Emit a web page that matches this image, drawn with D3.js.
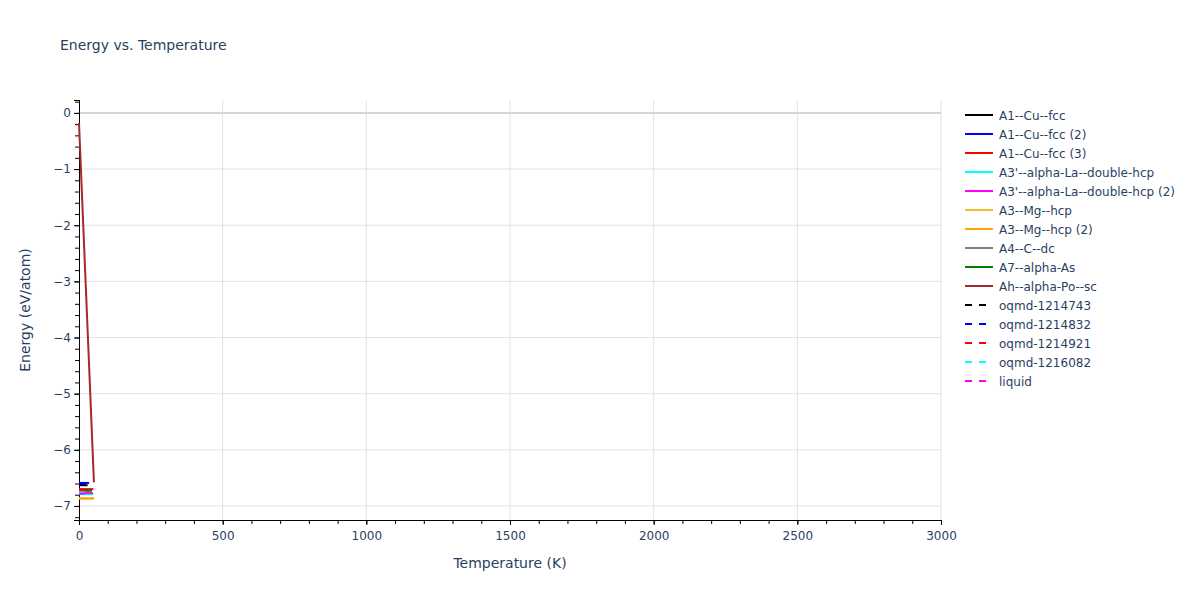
<!DOCTYPE html>
<html>
<head>
<meta charset="utf-8">
<script src="https://cdn.jsdelivr.net/npm/d3@7"></script>
<style>
  body { margin: 0; background: #fff; }
  text { font-family: "DejaVu Sans", "Open Sans", sans-serif; fill: #2a3f5f; }
</style>
</head>
<body>
<svg id="chart" width="1200" height="600"></svg>
<script>
// Nomi delle serie (in ordine di legenda)
var seriesNames = [
  "A1--Cu--fcc", "A1--Cu--fcc (2)", "A1--Cu--fcc (3)",
  "A3'--alpha-La--double-hcp", "A3'--alpha-La--double-hcp (2)",
  "A3--Mg--hcp", "A3--Mg--hcp (2)", "A4--C--dc", "A7--alpha-As",
  "Ah--alpha-Po--sc", "oqmd-1214743", "oqmd-1214832", "oqmd-1214921",
  "oqmd-1216082", "liquid"
];
var seriesColors = [
  "black", "blue", "red", "cyan", "magenta", "#f0c030", "orange", "grey",
  "green", "brown", "black", "blue", "red", "cyan", "magenta"
];
var seriesDashed = [false, false, false, false, false, false, false, false,
  false, false, true, true, true, true, true];

// Temperature (K) ed energia (eV/atom)
var seriesTemps = [
  [0, 30], [0, 35], [0, 50], [0, 50], [0, 48],
  [0, 52], [0, 52], [0, 45], [0, 45], [0, 52],
  [0, 22], [0, 30], [0, 45], [0, 40], [0, 40]
];
var seriesEnergies = [
  [-6.63, -6.63], [-6.59, -6.59], [-6.70, -6.70], [-6.79, -6.79], [-6.77, -6.77],
  [-6.86, -6.86], [-6.87, -6.87], [-6.74, -6.74], [-6.72, -6.72], [-0.18, -6.58],
  [-6.62, -6.62], [-6.60, -6.60], [-6.71, -6.71], [-6.76, -6.76], [-6.78, -6.78]
];

var xTicks = [0, 500, 1000, 1500, 2000, 2500, 3000];
var yTicks = [0, -1, -2, -3, -4, -5, -6, -7];

// Margini
var margin = {top: 100, right: 259, bottom: 80, left: 79};
var width = 1200 - margin.left - margin.right;
var height = 600 - margin.top - margin.bottom;

var svg = d3.select("#chart");
var g = svg.append("g").attr("transform", "translate(" + margin.left + "," + margin.top + ")");

var xScale = d3.scaleLinear().domain([0, 3000]).range([0, width]);
var yScale = d3.scaleLinear().domain([-7.25, 0.23]).range([height, 0]);

// Griglia
g.selectAll(".xgrid").data(xTicks.slice(1)).enter().append("line")
  .attr("x1", function(d) { return xScale(d); })
  .attr("x2", function(d) { return xScale(d); })
  .attr("y1", 0).attr("y2", height)
  .style("stroke", "#e2e2e2").style("stroke-width", 1);

g.selectAll(".ygrid").data(yTicks).enter().append("line")
  .attr("x1", 0).attr("x2", width)
  .attr("y1", function(d) { return yScale(d); })
  .attr("y2", function(d) { return yScale(d); })
  .style("stroke", function(d) { return d === 0 ? "#d6d6d6" : "#e2e2e2"; })
  .style("stroke-width", function(d) { return d === 0 ? 2 : 1; });

// Assi
var xAxis = d3.axisBottom(xScale).tickValues(xTicks).tickSize(5).tickPadding(6)
  .tickFormat(d3.format("d"));
var xMinor = d3.axisBottom(xScale).tickValues(d3.range(0, 3001, 100)).tickSize(4).tickFormat("");
var yAxis = d3.axisLeft(yScale).tickValues(yTicks).tickSize(5).tickPadding(3)
  .tickFormat(function(d) { return d < 0 ? "\u2212" + Math.abs(d) : d; });
var yMinor = d3.axisLeft(yScale).tickValues(d3.range(-36, 2, 1).map(function(v) { return v / 5; }))
  .tickSize(4).tickFormat("");

g.append("g").attr("transform", "translate(0," + height + ")").call(xMinor);
var gx = g.append("g").attr("transform", "translate(0," + height + ")").call(xAxis);
g.append("g").call(yMinor);
var gy = g.append("g").call(yAxis);

g.selectAll(".domain").style("stroke", "black");
g.selectAll(".tick line").style("stroke", "black");
gx.selectAll("text").style("font-size", "12px").style("font-family", "'DejaVu Sans'");
gy.selectAll("text").style("font-size", "12px").style("font-family", "'DejaVu Sans'");

// Linee delle serie
var line = d3.line()
  .x(function(d) { return xScale(d[0]); })
  .y(function(d) { return yScale(d[1]); });

seriesNames.forEach(function(name, i) {
  var pts = seriesTemps[i].map(function(t, j) { return [t, seriesEnergies[i][j]]; });
  g.append("path")
    .datum(pts)
    .attr("d", line)
    .style("fill", "none")
    .style("stroke", seriesColors[i])
    .style("stroke-width", 2)
    .style("stroke-dasharray", seriesDashed[i] ? "6,6" : null);
});

// Titoli
svg.append("text").attr("x", 60).attr("y", 50)
  .style("font-size", "14px").text("Energy vs. Temperature");
svg.append("text").attr("x", margin.left + width / 2).attr("y", 568)
  .attr("text-anchor", "middle").style("font-size", "14px").text("Temperature (K)");
svg.append("text")
  .attr("transform", "translate(30," + (margin.top + height / 2) + ") rotate(-90)")
  .attr("text-anchor", "middle").style("font-size", "14px").text("Energy (eV/atom)");

// Legenda
var legend = svg.append("g").attr("transform", "translate(965,115)");
seriesNames.forEach(function(name, i) {
  var row = legend.append("g").attr("transform", "translate(0," + (i * 19) + ")");
  row.append("line").attr("x1", 0).attr("x2", 28).attr("y1", 0).attr("y2", 0)
    .style("stroke", seriesColors[i]).style("stroke-width", 2)
    .style("stroke-dasharray", seriesDashed[i] ? "7,7" : null);
  row.append("text").attr("x", 34).attr("y", 4.5)
    .style("font-size", "12px").text(name);
});
</script>
</body>
</html>
